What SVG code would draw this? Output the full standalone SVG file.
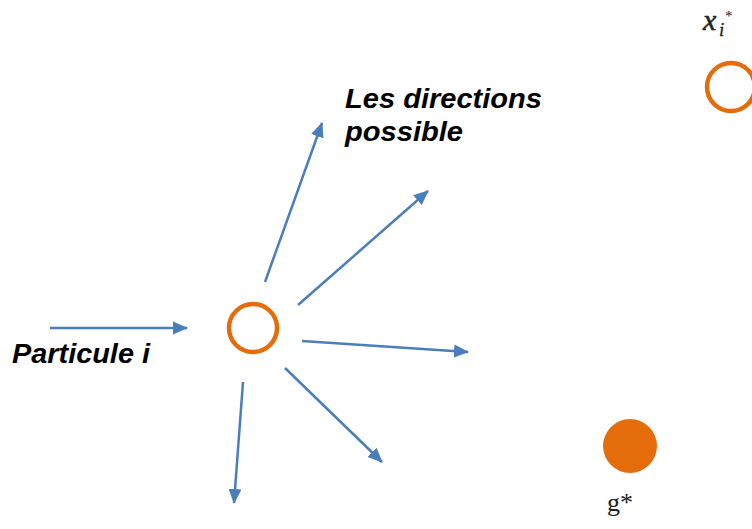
<svg xmlns="http://www.w3.org/2000/svg" width="752" height="529" viewBox="0 0 752 529">
  <style>
    .label { font-family: "Liberation Sans", Arial, sans-serif; font-size: 27px; font-weight: bold; font-style: italic; fill: #000; }
    .math { font-family: "Liberation Serif", "DejaVu Serif", serif; fill: #222; }
    .ring { fill: none; stroke: #e46c0a; stroke-width: 4.5; }
    .dot { fill: #e46c0a; }
    .arrow { stroke: #4a7ebb; stroke-width: 2.5; fill: none; marker-end: url(#head); }
  </style>
  <defs>
    <marker id="head" markerUnits="userSpaceOnUse" markerWidth="15" markerHeight="15" viewBox="0 0 15 15" refX="14" refY="7.5" orient="auto">
      <path d="M0,1 L15,7.5 L0,14 Z" fill="#4a7ebb"/>
    </marker>
  </defs>

  <rect width="752" height="529" fill="#fff"/>

  <!-- connectors -->
  <g id="connectors">
    <line class="arrow" x1="50" y1="328" x2="187" y2="328"/>
    <line class="arrow" x1="265" y1="282" x2="322" y2="123"/>
    <line class="arrow" x1="298" y1="305" x2="428" y2="191"/>
    <line class="arrow" x1="302" y1="341" x2="468" y2="352"/>
    <line class="arrow" x1="285" y1="368" x2="382" y2="462"/>
    <line class="arrow" x1="243" y1="382" x2="234" y2="503"/>
  </g>

  <!-- particle i -->
  <g id="particle">
    <circle class="ring" cx="253" cy="328" r="24"/>
    <text class="label" x="12" y="363" textLength="138" lengthAdjust="spacingAndGlyphs">Particule i</text>
  </g>

  <!-- directions label -->
  <g id="directions">
    <text class="label" x="345" y="108" textLength="197" lengthAdjust="spacingAndGlyphs">Les directions</text>
    <text class="label" x="345" y="141" textLength="118" lengthAdjust="spacingAndGlyphs">possible</text>
  </g>

  <!-- personal best x_i* -->
  <g id="pbest">
    <circle class="ring" cx="731" cy="87" r="24"/>
    <text class="math" x="703" y="30" font-size="30" font-style="italic" stroke="#222" stroke-width="0.5">x</text>
    <text class="math" x="719" y="36" font-size="19" font-style="italic" stroke="#222" stroke-width="0.3">i</text>
    <text class="math" x="725" y="21" font-size="15">*</text>
  </g>

  <!-- global best g* -->
  <g id="gbest">
    <circle class="dot" cx="630" cy="446" r="27"/>
    <text class="math" x="607" y="511" font-size="26">g*</text>
  </g>
</svg>
